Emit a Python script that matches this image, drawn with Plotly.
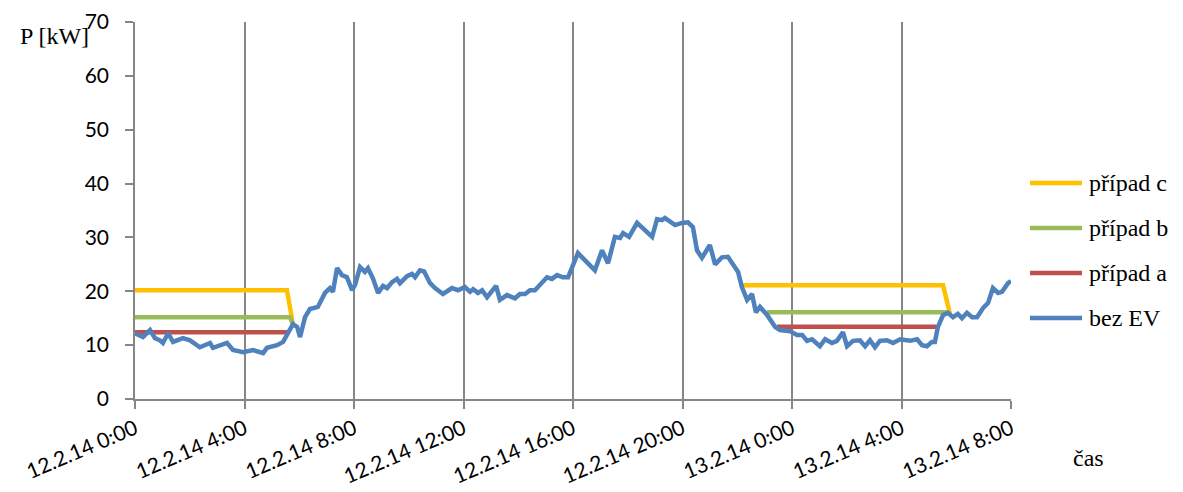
import plotly.graph_objects as go

# Time axis in hours from 12.2.14 0:00
tick_hours = [0, 4, 8, 12, 16, 20, 24, 28, 32]
tick_labels = ["12.2.14 0:00", "12.2.14 4:00", "12.2.14 8:00", "12.2.14 12:00",
               "12.2.14 16:00", "12.2.14 20:00", "13.2.14 0:00", "13.2.14 4:00",
               "13.2.14 8:00"]

# Load without EV charging
base_hours = [0.00, 0.29, 0.55, 0.73, 0.91, 1.02, 1.21, 1.39, 1.75, 2.01, 2.37, 2.74,
              2.85, 3.36, 3.58, 3.95, 4.31, 4.49, 4.68, 4.82, 5.19, 5.41, 5.59, 5.77,
              5.92, 6.03, 6.21, 6.39, 6.68, 6.94, 7.12, 7.23, 7.38, 7.56, 7.74, 7.93,
              8.04, 8.22, 8.40, 8.51, 8.69, 8.88, 9.06, 9.21, 9.39, 9.57, 9.68, 9.94,
              10.12, 10.23, 10.41, 10.56, 10.78, 10.96, 11.25, 11.58, 11.80, 12.05,
              12.24, 12.35, 12.53, 12.68, 12.86, 13.19, 13.33, 13.59, 13.88, 14.06,
              14.25, 14.43, 14.61, 15.05, 15.23, 15.42, 15.63, 15.82, 16.18, 16.44,
              16.80, 17.06, 17.28, 17.53, 17.72, 17.83, 18.05, 18.34, 18.89, 19.07,
              19.25, 19.36, 19.73, 19.98, 20.20, 20.38, 20.53, 20.71, 21.00, 21.19,
              21.44, 21.66, 21.92, 22.03, 22.17, 22.36, 22.54, 22.68, 22.83, 23.09,
              23.38, 23.56, 23.93, 24.18, 24.37, 24.55, 24.73, 25.02, 25.21, 25.46,
              25.64, 25.86, 26.01, 26.23, 26.48, 26.67, 26.85, 27.03, 27.21, 27.47,
              27.69, 27.95, 28.31, 28.57, 28.75, 28.93, 29.11, 29.22, 29.33, 29.52,
              29.70, 29.88, 30.06, 30.21, 30.39, 30.58, 30.76, 30.98, 31.16, 31.34,
              31.53, 31.67, 31.89, 32.00]
base_kw = [12.2, 11.5, 12.8, 11.3, 10.9, 10.4, 12.2, 10.6, 11.3, 10.9, 9.6, 10.4,
           9.5, 10.4, 9.1, 8.7, 9.1, 8.7, 8.5, 9.5, 10.0, 10.6, 12.4, 13.9,
           13.4, 11.5, 15.2, 16.7, 17.1, 19.7, 20.6, 19.9, 24.3, 23.0, 22.6, 20.2,
           21.2, 24.5, 23.6, 24.3, 22.4, 19.7, 21.0, 20.6, 21.7, 22.3, 21.5, 22.8,
           23.2, 22.6, 23.9, 23.7, 21.5, 20.6, 19.5, 20.6, 20.2, 20.8,
           19.9, 20.4, 19.7, 20.2, 18.9, 21.0, 18.4, 19.3, 18.7, 19.5,
           19.5, 20.2, 20.2, 22.6, 22.3, 23.0, 22.6, 22.6, 27.1, 25.8,
           23.9, 27.6, 25.2, 30.1, 29.9, 30.8, 30.1, 32.7, 30.1, 33.4,
           33.2, 33.6, 32.3, 32.7, 32.8, 31.9, 27.6, 26.2, 28.6, 25.0,
           26.3, 26.4, 24.5, 23.6, 20.8, 18.4, 19.5, 16.1, 17.1, 15.6,
           13.4, 12.8, 12.6, 11.9, 11.9, 10.8, 11.1, 9.8, 11.1, 10.4,
           10.8, 12.4, 9.8, 10.8, 10.9, 9.8, 10.9, 9.6, 10.8, 10.9,
           10.4, 11.1, 10.8, 11.1, 10.0, 9.8, 10.6, 10.6, 13.4, 15.6,
           16.0, 15.2, 15.8, 15.0, 16.0, 15.2, 15.2, 16.9, 17.8, 20.6,
           19.7, 19.9, 21.5, 21.9]

# Charging scenarios (flat load during the night charging windows)
case_c_hours = [0, 5.55, 5.77, None, 22.2, 29.52, 29.77]
case_c_kw = [20.2, 20.2, 13.9, None, 21.1, 21.1, 15.8]
case_b_hours = [0, 5.66, 5.77, None, 23.09, 29.70]
case_b_kw = [15.2, 15.2, 13.9, None, 16.1, 16.1]
case_a_hours = [0, 5.57, None, 23.45, 29.28]
case_a_kw = [12.4, 12.4, None, 13.4, 13.4]

serif = "Liberation Serif"
sans = "Lato"
axis_grey = "#868686"

W, H = 1183, 492
L, R, T, B = 135, 172, 22, 93
PW, PH = W - L - R, H - T - B


def px_x(x):
    return (x - L) / PW


def px_y(y):
    return (H - B - y) / PH


series = [
    ("případ c", case_c_hours, case_c_kw, "#FFC000"),
    ("případ b", case_b_hours, case_b_kw, "#9BBB59"),
    ("případ a", case_a_hours, case_a_kw, "#C0504D"),
    ("bez EV", base_hours, base_kw, "#4F81BD"),
]

fig = go.Figure()
for name, xs, ys, color in series:
    fig.add_trace(go.Scatter(
        x=xs, y=ys, name=name, mode="lines", connectgaps=False,
        line=dict(color=color, width=4.5), showlegend=False,
    ))

# Legend drawn with long line keys on the right
shapes, annotations = [], []
legend_rows = [183, 228, 273, 318]
for (name, _, _, color), row in zip(series, legend_rows):
    shapes.append(dict(type="line", xref="paper", yref="paper",
                       x0=px_x(1030), x1=px_x(1082), y0=px_y(row), y1=px_y(row),
                       line=dict(color=color, width=4.5)))
    annotations.append(dict(text=name, xref="paper", yref="paper",
                            x=px_x(1087), y=px_y(row), xanchor="left", yanchor="middle",
                            showarrow=False,
                            font=dict(family=serif, size=24, color="black")))

annotations.append(dict(text="P [kW]", xref="paper", yref="paper", x=px_x(18), y=px_y(36),
                        xanchor="left", yanchor="middle", showarrow=False,
                        font=dict(family=serif, size=24, color="black")))
annotations.append(dict(text="čas", xref="paper", yref="paper", x=px_x(1088), y=px_y(458),
                        xanchor="center", yanchor="middle", showarrow=False,
                        font=dict(family=serif, size=24, color="black")))

fig.update_layout(
    width=W, height=H,
    margin=dict(l=L, r=R, t=T, b=B),
    plot_bgcolor="white", paper_bgcolor="white",
    showlegend=False,
    xaxis=dict(
        range=[0, 32], tickmode="array", tickvals=tick_hours, ticktext=tick_labels,
        tickangle=-23, tickfont=dict(family=sans, size=21, color="black"),
        showgrid=True, gridcolor=axis_grey, gridwidth=1.5,
        showline=True, linecolor=axis_grey, linewidth=1.5,
        ticks="outside", ticklen=8, tickcolor=axis_grey, tickwidth=1.5,
        zeroline=False, automargin=False,
    ),
    yaxis=dict(
        range=[0, 70], tickmode="array", tickvals=list(range(0, 71, 10)),
        tickfont=dict(family=sans, size=21, color="black"),
        showgrid=False, showline=True, linecolor=axis_grey, linewidth=1.5,
        ticks="outside", ticklen=8, tickcolor=axis_grey, tickwidth=1.5,
        ticklabelstandoff=12, zeroline=False, automargin=False,
    ),
    shapes=shapes,
    annotations=annotations,
)

fig.write_html("out.html")
